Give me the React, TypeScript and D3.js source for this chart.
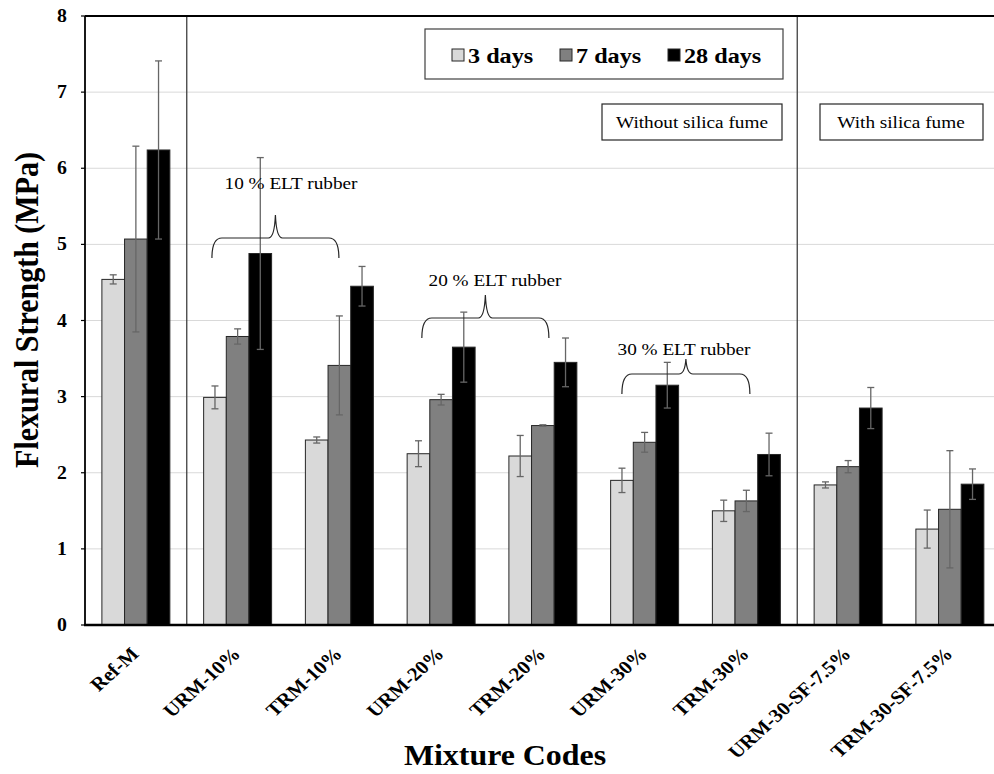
import React from "react";
import * as d3 from "d3";

const categories = ["Ref-M", "URM-10%", "TRM-10%", "URM-20%", "TRM-20%", "URM-30%", "TRM-30%", "URM-30-SF-7.5%", "TRM-30-SF-7.5%"];
const seriesNames = ["3 days", "7 days", "28 days"];
const days3 = [4.54, 2.99, 2.43, 2.25, 2.22, 1.90, 1.50, 1.84, 1.26];
const days7 = [5.07, 3.79, 3.41, 2.96, 2.62, 2.40, 1.63, 2.08, 1.52];
const days28 = [6.24, 4.88, 4.45, 3.65, 3.45, 3.15, 2.24, 2.85, 1.85];
const err3 = [0.06, 0.15, 0.04, 0.17, 0.27, 0.16, 0.14, 0.04, 0.25];
const err7 = [1.22, 0.10, 0.65, 0.07, 0.01, 0.13, 0.14, 0.08, 0.77];
const err28 = [1.17, 1.26, 0.26, 0.46, 0.32, 0.30, 0.28, 0.27, 0.20];
const yTicks = [0, 1, 2, 3, 4, 5, 6, 7, 8];
const colors = ["#d9d9d9", "#808080", "#000000"];

const W = 994, H = 774;
const left = 85, top = 16, bottom = 625;
const step = 101.75;
const right = left + step * categories.length;
const SX = 1.1;
const FONT = "'Liberation Serif', 'Times New Roman', serif";

const T = ({ x, y, size, bold = false, anchor = "start", rotate = 0, children }: any) => (
  <text
    transform={`translate(${x},${y}) scale(${SX},1) rotate(${rotate})`}
    fontFamily={FONT}
    fontSize={size}
    fontWeight={bold ? "bold" : "normal"}
    textAnchor={anchor}
    fill="#000"
  >
    {children}
  </text>
);

export default function App() {
  const x = d3.scaleBand<string>().domain(categories).range([left, right]).paddingInner(0.332).paddingOuter(0.166);
  const xs = d3.scaleBand<string>().domain(seriesNames).range([0, x.bandwidth()]).padding(0);
  const y = d3.scaleLinear().domain([0, 8]).range([bottom, top]);
  const values = [days3, days7, days28];
  const errs = [err3, err7, err28];

  const braces = [
    { c1: 1, c2: 2, dx1: 8.3, dx2: 33.5, yH: 238, yP: 215, label: "10 % ELT rubber", lx: 291, ly: 189 },
    { c1: 3, c2: 4, dx1: 14.7, dx2: 40, yH: 318, yP: 295, label: "20 % ELT rubber", lx: 495, ly: 286 },
    { c1: 5, c2: 6, dx1: 11.25, dx2: 37.5, yH: 374, yP: 359, label: "30 % ELT rubber", lx: 684, ly: 355 },
  ];

  const bracePath = (x1: number, x2: number, yH: number, yP: number) => {
    const xm = (x1 + x2) / 2;
    const yb = yH + 20;
    return `M${x1},${yb} Q${x1},${yH} ${x1 + 10},${yH} L${xm - 7},${yH} Q${xm - 1},${yH} ${xm},${yP} Q${xm + 1},${yH} ${xm + 7},${yH} L${x2 - 10},${yH} Q${x2},${yH} ${x2},${yb}`;
  };

  const sepX = [x(categories[1])! - x.step() * 0.166, x(categories[7])! - x.step() * 0.166];

  return (
    <svg width={W} height={H} style={{ position: "absolute", left: 0, top: 0, background: "#fff" }}>
      <rect x={0} y={0} width={W} height={H} fill="#fff" />
      {/* gridlines */}
      {yTicks.filter((t) => t > 0 && t < 8).map((t) => (
        <line key={"g" + t} x1={left} x2={right} y1={y(t)} y2={y(t)} stroke="#d9d9d9" strokeWidth={1} />
      ))}
      {/* separators */}
      {sepX.map((sx, i) => (
        <line key={"s" + i} x1={sx} x2={sx} y1={top} y2={bottom} stroke="#404040" strokeWidth={1.3} />
      ))}
      {/* bars */}
      {categories.map((c, ci) => (
        <g key={c}>
          {seriesNames.map((s, si) => {
            const v = values[si][ci];
            const bx = x(c)! + xs(s)!;
            return (
              <rect key={s} x={bx} y={y(v)} width={xs.bandwidth()} height={y(0) - y(v)} fill={colors[si]} stroke="#262626" strokeWidth={1} />
            );
          })}
        </g>
      ))}
      {/* error bars */}
      {categories.map((c, ci) => (
        <g key={"e" + c}>
          {seriesNames.map((s, si) => {
            const v = values[si][ci];
            const e = errs[si][ci];
            const cx = x(c)! + xs(s)! + xs.bandwidth() / 2;
            return (
              <g key={s} stroke="#666" strokeWidth={1.3}>
                <line x1={cx} x2={cx} y1={y(v + e)} y2={y(v - e)} />
                <line x1={cx - 3.5} x2={cx + 3.5} y1={y(v + e)} y2={y(v + e)} />
                <line x1={cx - 3.5} x2={cx + 3.5} y1={y(v - e)} y2={y(v - e)} />
              </g>
            );
          })}
        </g>
      ))}
      {/* axes */}
      <line x1={left} x2={right} y1={top} y2={top} stroke="#000" strokeWidth={2} />
      <line x1={left} x2={left} y1={top} y2={bottom} stroke="#000" strokeWidth={1.8} />
      <line x1={left - 1} x2={right} y1={bottom} y2={bottom} stroke="#000" strokeWidth={2.5} />
      {yTicks.map((t) => (
        <g key={"t" + t}>
          <line x1={left - 4} x2={left} y1={y(t)} y2={y(t)} stroke="#000" strokeWidth={1.2} />
          <T x={67} y={y(t) + 6} size={18} bold anchor="end">{t}</T>
        </g>
      ))}
      {categories.map((c) => (
        <T key={"l" + c} x={x(c)! + x.bandwidth() / 2 + 4} y={655} size={19} bold anchor="end" rotate={-45}>{c}</T>
      ))}
      {/* axis titles */}
      <text transform={`translate(38,310) scale(${SX},1) rotate(-90)`} fontFamily={FONT} fontSize={30} fontWeight="bold" textAnchor="middle">
        Flexural Strength (MPa)
      </text>
      <T x={505} y={765} size={29} bold anchor="middle">Mixture Codes</T>
      {/* legend */}
      <rect x={425} y={29} width={358} height={50} fill="#fff" stroke="#404040" strokeWidth={1.2} />
      {seriesNames.map((s, i) => {
        const lx = [452, 560, 668][i];
        return (
          <g key={"lg" + s}>
            <rect x={lx} y={49} width={12} height={12} fill={colors[i]} stroke="#262626" strokeWidth={1} />
            <T x={lx + 16} y={63} size={22} bold>{s}</T>
          </g>
        );
      })}
      {/* silica fume boxes */}
      <rect x={602} y={104} width={180} height={36} fill="#fff" stroke="#262626" strokeWidth={1.2} />
      <T x={692} y={128} size={17.5} anchor="middle">Without silica fume</T>
      <rect x={820} y={104} width={163} height={36} fill="#fff" stroke="#262626" strokeWidth={1.2} />
      <T x={901} y={128} size={17.5} anchor="middle">With silica fume</T>
      {/* braces */}
      {braces.map((b, i) => {
        const x1 = x(categories[b.c1])! + b.dx1;
        const x2 = x(categories[b.c2])! + b.dx2;
        return (
          <g key={"b" + i}>
            <path d={bracePath(x1, x2, b.yH, b.yP)} fill="none" stroke="#262626" strokeWidth={1.2} />
            <T x={b.lx} y={b.ly} size={17.5} anchor="middle">{b.label}</T>
          </g>
        );
      })}
    </svg>
  );
}
